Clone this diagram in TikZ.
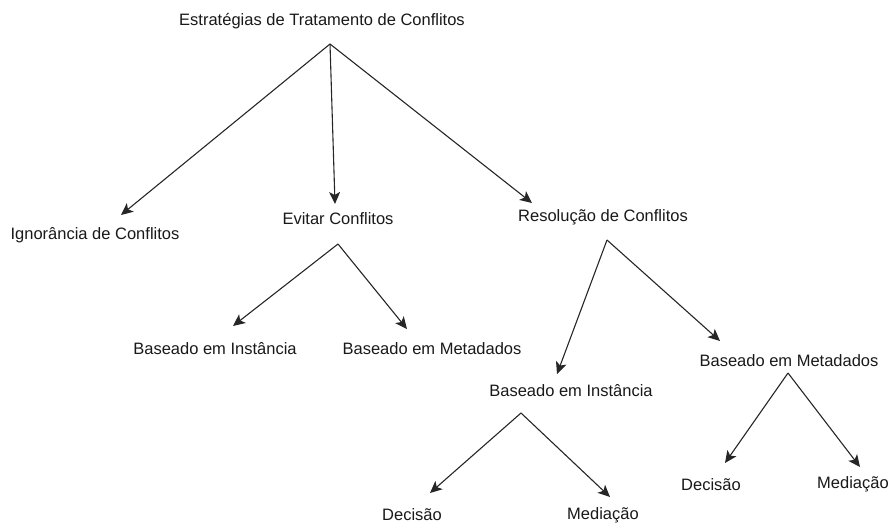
\documentclass[tikz,border=0pt]{standalone}
\usepackage{fontspec}
\setmainfont{Liberation Sans}
\usetikzlibrary{arrows.meta}
\begin{document}
\begin{tikzpicture}[x=1pt,y=-1pt,
  label/.style={inner sep=0pt,anchor=base,font=\fontsize{16.5}{18}\selectfont,text=black!90},
  link/.style={draw=black!85,line width=1.1pt,-{Stealth[length=12pt,width=11pt,inset=3pt]}}]
\useasboundingbox (0,0) rectangle (890,525);
% labels
\node[label] (root) at (322,25) {Estratégias de Tratamento de Conflitos};
\node[label] (ign)  at (95,239) {Ignorância de Conflitos};
\node[label] (evt)  at (338,224) {Evitar Conflitos};
\node[label] (res)  at (603,221) {Resolução de Conflitos};
\node[label] (evtI) at (215,354) {Baseado em Instância};
\node[label] (evtM) at (432,354) {Baseado em Metadados};
\node[label] (resI) at (571,396) {Baseado em Instância};
\node[label] (resM) at (789,366) {Baseado em Metadados};
\node[label] (iDec) at (412,520) {Decisão};
\node[label] (iMed) at (603,519) {Mediação};
\node[label] (mDec) at (711,490) {Decisão};
\node[label] (mMed) at (853,488) {Mediação};
% fan-out points under each parent
\coordinate (rootF) at (330,44);
\coordinate (evtF)  at (338,244);
\coordinate (resF)  at (607,240);
\coordinate (resIF) at (521,413);
\coordinate (resMF) at (788,373);
% arrow tips above each child
\coordinate (ignT)  at (121,215);
\coordinate (evtT)  at (335,204);
\coordinate (resT)  at (532,203);
\coordinate (evtIT) at (233,326);
\coordinate (evtMT) at (407,329);
\coordinate (resIT) at (557,374);
\coordinate (resMT) at (720,341);
\coordinate (iDecT) at (430,493);
\coordinate (iMedT) at (610,497);
\coordinate (mDecT) at (725,463);
\coordinate (mMedT) at (860,467);
% connectors
\draw[link] (rootF) -- (ignT);
\draw[link] (rootF) -- (evtT);
\draw[link] (rootF) -- (resT);
\draw[link] (evtF) -- (evtIT);
\draw[link] (evtF) -- (evtMT);
\draw[link] (resF) -- (resIT);
\draw[link] (resF) -- (resMT);
\draw[link] (resIF) -- (iDecT);
\draw[link] (resIF) -- (iMedT);
\draw[link] (resMF) -- (mDecT);
\draw[link] (resMF) -- (mMedT);
\end{tikzpicture}
\end{document}
